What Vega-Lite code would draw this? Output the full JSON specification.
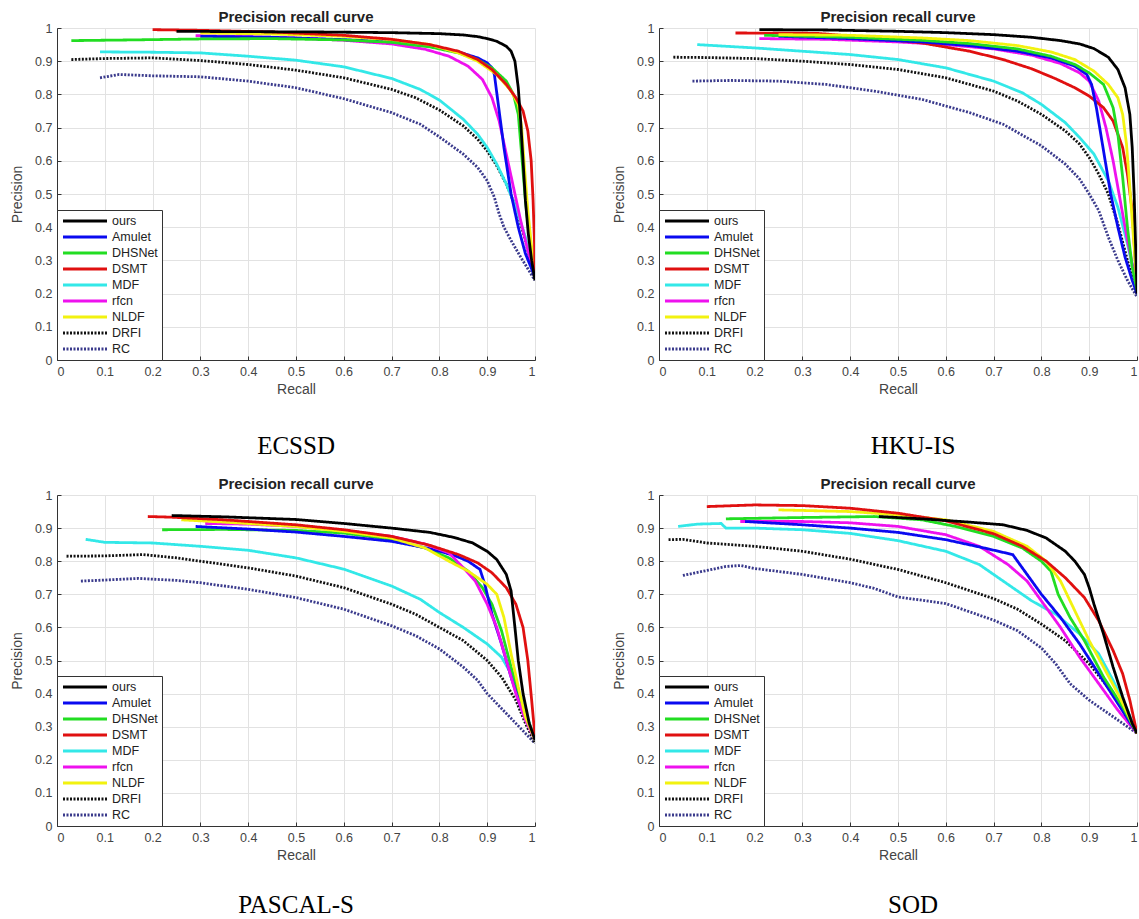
{
"$schema": "https://vega.github.io/schema/vega-lite/v6.json",
"padding": {"left": 10, "top": 10, "right": 0, "bottom": 0},
"background": "white",
"config": {
  "view": {"stroke": null},
  "font": "Liberation Sans",
  "axis": {"grid": true, "gridColor": "#e2e2e2", "gridWidth": 1, "domainColor": "#333333", "tickColor": "#333333", "tickSize": -4, "labelPadding": 9, "labelFontSize": 12.5, "labelColor": "#444444", "titleFontSize": 14, "titleFontWeight": "normal", "titleColor": "#444444", "labelFont": "Liberation Sans", "titleFont": "Liberation Sans"},
  "legend": {"orient": "bottom-left", "offset": 0, "padding": 4, "strokeColor": "#333333", "fillColor": "white", "symbolType": "M-4,0H4", "symbolSize": 121, "symbolStrokeWidth": 3, "symbolOffset": 17, "labelFontSize": 12.5, "labelColor": "#222222", "rowPadding": 2, "labelOffset": 20, "labelFont": "Liberation Sans"}
},
"resolve": {"legend": {"color": "independent", "strokeDash": "independent"}},
"datasets": {"pr": [
{"d":"ECSSD","m":"RC","r":0.09,"p":0.85},{"d":"ECSSD","m":"RC","r":0.13,"p":0.86},{"d":"ECSSD","m":"RC","r":0.2,"p":0.856},{"d":"ECSSD","m":"RC","r":0.3,"p":0.853},{"d":"ECSSD","m":"RC","r":0.4,"p":0.84},{"d":"ECSSD","m":"RC","r":0.5,"p":0.82},{"d":"ECSSD","m":"RC","r":0.6,"p":0.787},{"d":"ECSSD","m":"RC","r":0.7,"p":0.745},{"d":"ECSSD","m":"RC","r":0.76,"p":0.71},{"d":"ECSSD","m":"RC","r":0.8,"p":0.672},{"d":"ECSSD","m":"RC","r":0.85,"p":0.62},{"d":"ECSSD","m":"RC","r":0.88,"p":0.58},{"d":"ECSSD","m":"RC","r":0.9,"p":0.54},{"d":"ECSSD","m":"RC","r":0.915,"p":0.49},{"d":"ECSSD","m":"RC","r":0.925,"p":0.44},{"d":"ECSSD","m":"RC","r":0.935,"p":0.4},{"d":"ECSSD","m":"RC","r":0.95,"p":0.36},{"d":"ECSSD","m":"RC","r":0.97,"p":0.31},{"d":"ECSSD","m":"RC","r":1.0,"p":0.24},
{"d":"ECSSD","m":"DRFI","r":0.03,"p":0.905},{"d":"ECSSD","m":"DRFI","r":0.1,"p":0.908},{"d":"ECSSD","m":"DRFI","r":0.2,"p":0.91},{"d":"ECSSD","m":"DRFI","r":0.3,"p":0.902},{"d":"ECSSD","m":"DRFI","r":0.4,"p":0.89},{"d":"ECSSD","m":"DRFI","r":0.5,"p":0.873},{"d":"ECSSD","m":"DRFI","r":0.6,"p":0.85},{"d":"ECSSD","m":"DRFI","r":0.7,"p":0.815},{"d":"ECSSD","m":"DRFI","r":0.75,"p":0.79},{"d":"ECSSD","m":"DRFI","r":0.8,"p":0.753},{"d":"ECSSD","m":"DRFI","r":0.85,"p":0.705},{"d":"ECSSD","m":"DRFI","r":0.88,"p":0.665},{"d":"ECSSD","m":"DRFI","r":0.9,"p":0.63},{"d":"ECSSD","m":"DRFI","r":0.92,"p":0.585},{"d":"ECSSD","m":"DRFI","r":0.94,"p":0.53},{"d":"ECSSD","m":"DRFI","r":0.96,"p":0.46},{"d":"ECSSD","m":"DRFI","r":0.98,"p":0.36},{"d":"ECSSD","m":"DRFI","r":1.0,"p":0.24},
{"d":"ECSSD","m":"MDF","r":0.09,"p":0.928},{"d":"ECSSD","m":"MDF","r":0.2,"p":0.927},{"d":"ECSSD","m":"MDF","r":0.3,"p":0.925},{"d":"ECSSD","m":"MDF","r":0.4,"p":0.915},{"d":"ECSSD","m":"MDF","r":0.5,"p":0.903},{"d":"ECSSD","m":"MDF","r":0.6,"p":0.883},{"d":"ECSSD","m":"MDF","r":0.7,"p":0.848},{"d":"ECSSD","m":"MDF","r":0.76,"p":0.815},{"d":"ECSSD","m":"MDF","r":0.8,"p":0.783},{"d":"ECSSD","m":"MDF","r":0.85,"p":0.725},{"d":"ECSSD","m":"MDF","r":0.88,"p":0.68},{"d":"ECSSD","m":"MDF","r":0.9,"p":0.64},{"d":"ECSSD","m":"MDF","r":0.92,"p":0.59},{"d":"ECSSD","m":"MDF","r":0.94,"p":0.53},{"d":"ECSSD","m":"MDF","r":0.96,"p":0.46},{"d":"ECSSD","m":"MDF","r":0.98,"p":0.37},{"d":"ECSSD","m":"MDF","r":1.0,"p":0.25},
{"d":"ECSSD","m":"rfcn","r":0.29,"p":0.977},{"d":"ECSSD","m":"rfcn","r":0.4,"p":0.974},{"d":"ECSSD","m":"rfcn","r":0.5,"p":0.97},{"d":"ECSSD","m":"rfcn","r":0.6,"p":0.963},{"d":"ECSSD","m":"rfcn","r":0.7,"p":0.952},{"d":"ECSSD","m":"rfcn","r":0.77,"p":0.936},{"d":"ECSSD","m":"rfcn","r":0.82,"p":0.915},{"d":"ECSSD","m":"rfcn","r":0.86,"p":0.885},{"d":"ECSSD","m":"rfcn","r":0.89,"p":0.845},{"d":"ECSSD","m":"rfcn","r":0.91,"p":0.79},{"d":"ECSSD","m":"rfcn","r":0.925,"p":0.72},{"d":"ECSSD","m":"rfcn","r":0.94,"p":0.62},{"d":"ECSSD","m":"rfcn","r":0.955,"p":0.52},{"d":"ECSSD","m":"rfcn","r":0.97,"p":0.42},{"d":"ECSSD","m":"rfcn","r":0.985,"p":0.33},{"d":"ECSSD","m":"rfcn","r":1.0,"p":0.25},
{"d":"ECSSD","m":"Amulet","r":0.3,"p":0.975},{"d":"ECSSD","m":"Amulet","r":0.45,"p":0.972},{"d":"ECSSD","m":"Amulet","r":0.6,"p":0.965},{"d":"ECSSD","m":"Amulet","r":0.7,"p":0.958},{"d":"ECSSD","m":"Amulet","r":0.78,"p":0.945},{"d":"ECSSD","m":"Amulet","r":0.84,"p":0.928},{"d":"ECSSD","m":"Amulet","r":0.88,"p":0.91},{"d":"ECSSD","m":"Amulet","r":0.9,"p":0.895},{"d":"ECSSD","m":"Amulet","r":0.91,"p":0.88},{"d":"ECSSD","m":"Amulet","r":0.915,"p":0.86},{"d":"ECSSD","m":"Amulet","r":0.925,"p":0.75},{"d":"ECSSD","m":"Amulet","r":0.935,"p":0.64},{"d":"ECSSD","m":"Amulet","r":0.95,"p":0.5},{"d":"ECSSD","m":"Amulet","r":0.965,"p":0.4},{"d":"ECSSD","m":"Amulet","r":0.98,"p":0.32},{"d":"ECSSD","m":"Amulet","r":1.0,"p":0.25},
{"d":"ECSSD","m":"DHSNet","r":0.03,"p":0.962},{"d":"ECSSD","m":"DHSNet","r":0.15,"p":0.964},{"d":"ECSSD","m":"DHSNet","r":0.3,"p":0.967},{"d":"ECSSD","m":"DHSNet","r":0.45,"p":0.968},{"d":"ECSSD","m":"DHSNet","r":0.6,"p":0.964},{"d":"ECSSD","m":"DHSNet","r":0.7,"p":0.957},{"d":"ECSSD","m":"DHSNet","r":0.78,"p":0.943},{"d":"ECSSD","m":"DHSNet","r":0.84,"p":0.925},{"d":"ECSSD","m":"DHSNet","r":0.88,"p":0.905},{"d":"ECSSD","m":"DHSNet","r":0.91,"p":0.88},{"d":"ECSSD","m":"DHSNet","r":0.94,"p":0.84},{"d":"ECSSD","m":"DHSNet","r":0.955,"p":0.8},{"d":"ECSSD","m":"DHSNet","r":0.965,"p":0.74},{"d":"ECSSD","m":"DHSNet","r":0.972,"p":0.62},{"d":"ECSSD","m":"DHSNet","r":0.98,"p":0.48},{"d":"ECSSD","m":"DHSNet","r":0.99,"p":0.35},{"d":"ECSSD","m":"DHSNet","r":1.0,"p":0.25},
{"d":"ECSSD","m":"NLDF","r":0.3,"p":0.985},{"d":"ECSSD","m":"NLDF","r":0.45,"p":0.982},{"d":"ECSSD","m":"NLDF","r":0.6,"p":0.975},{"d":"ECSSD","m":"NLDF","r":0.7,"p":0.965},{"d":"ECSSD","m":"NLDF","r":0.78,"p":0.95},{"d":"ECSSD","m":"NLDF","r":0.84,"p":0.925},{"d":"ECSSD","m":"NLDF","r":0.88,"p":0.9},{"d":"ECSSD","m":"NLDF","r":0.92,"p":0.86},{"d":"ECSSD","m":"NLDF","r":0.95,"p":0.81},{"d":"ECSSD","m":"NLDF","r":0.965,"p":0.77},{"d":"ECSSD","m":"NLDF","r":0.972,"p":0.7},{"d":"ECSSD","m":"NLDF","r":0.978,"p":0.58},{"d":"ECSSD","m":"NLDF","r":0.985,"p":0.45},{"d":"ECSSD","m":"NLDF","r":0.993,"p":0.34},{"d":"ECSSD","m":"NLDF","r":1.0,"p":0.25},
{"d":"ECSSD","m":"DSMT","r":0.2,"p":0.995},{"d":"ECSSD","m":"DSMT","r":0.3,"p":0.993},{"d":"ECSSD","m":"DSMT","r":0.45,"p":0.988},{"d":"ECSSD","m":"DSMT","r":0.6,"p":0.978},{"d":"ECSSD","m":"DSMT","r":0.7,"p":0.966},{"d":"ECSSD","m":"DSMT","r":0.78,"p":0.95},{"d":"ECSSD","m":"DSMT","r":0.84,"p":0.93},{"d":"ECSSD","m":"DSMT","r":0.88,"p":0.905},{"d":"ECSSD","m":"DSMT","r":0.91,"p":0.875},{"d":"ECSSD","m":"DSMT","r":0.94,"p":0.83},{"d":"ECSSD","m":"DSMT","r":0.96,"p":0.79},{"d":"ECSSD","m":"DSMT","r":0.975,"p":0.75},{"d":"ECSSD","m":"DSMT","r":0.985,"p":0.69},{"d":"ECSSD","m":"DSMT","r":0.992,"p":0.6},{"d":"ECSSD","m":"DSMT","r":0.996,"p":0.48},{"d":"ECSSD","m":"DSMT","r":0.999,"p":0.35},{"d":"ECSSD","m":"DSMT","r":1.0,"p":0.25},
{"d":"ECSSD","m":"ours","r":0.25,"p":0.99},{"d":"ECSSD","m":"ours","r":0.4,"p":0.989},{"d":"ECSSD","m":"ours","r":0.55,"p":0.988},{"d":"ECSSD","m":"ours","r":0.7,"p":0.986},{"d":"ECSSD","m":"ours","r":0.8,"p":0.983},{"d":"ECSSD","m":"ours","r":0.85,"p":0.979},{"d":"ECSSD","m":"ours","r":0.88,"p":0.974},{"d":"ECSSD","m":"ours","r":0.9,"p":0.968},{"d":"ECSSD","m":"ours","r":0.92,"p":0.96},{"d":"ECSSD","m":"ours","r":0.94,"p":0.945},{"d":"ECSSD","m":"ours","r":0.95,"p":0.93},{"d":"ECSSD","m":"ours","r":0.958,"p":0.9},{"d":"ECSSD","m":"ours","r":0.965,"p":0.82},{"d":"ECSSD","m":"ours","r":0.97,"p":0.72},{"d":"ECSSD","m":"ours","r":0.975,"p":0.6},{"d":"ECSSD","m":"ours","r":0.98,"p":0.48},{"d":"ECSSD","m":"ours","r":0.986,"p":0.38},{"d":"ECSSD","m":"ours","r":0.993,"p":0.3},{"d":"ECSSD","m":"ours","r":1.0,"p":0.24},

{"d":"HKU-IS","m":"RC","r":0.07,"p":0.84},{"d":"HKU-IS","m":"RC","r":0.15,"p":0.842},{"d":"HKU-IS","m":"RC","r":0.25,"p":0.84},{"d":"HKU-IS","m":"RC","r":0.35,"p":0.83},{"d":"HKU-IS","m":"RC","r":0.45,"p":0.81},{"d":"HKU-IS","m":"RC","r":0.55,"p":0.785},{"d":"HKU-IS","m":"RC","r":0.65,"p":0.745},{"d":"HKU-IS","m":"RC","r":0.72,"p":0.71},{"d":"HKU-IS","m":"RC","r":0.8,"p":0.645},{"d":"HKU-IS","m":"RC","r":0.85,"p":0.59},{"d":"HKU-IS","m":"RC","r":0.88,"p":0.545},{"d":"HKU-IS","m":"RC","r":0.9,"p":0.5},{"d":"HKU-IS","m":"RC","r":0.92,"p":0.45},{"d":"HKU-IS","m":"RC","r":0.94,"p":0.37},{"d":"HKU-IS","m":"RC","r":0.96,"p":0.3},{"d":"HKU-IS","m":"RC","r":0.98,"p":0.24},{"d":"HKU-IS","m":"RC","r":1.0,"p":0.19},
{"d":"HKU-IS","m":"DRFI","r":0.03,"p":0.912},{"d":"HKU-IS","m":"DRFI","r":0.1,"p":0.911},{"d":"HKU-IS","m":"DRFI","r":0.2,"p":0.908},{"d":"HKU-IS","m":"DRFI","r":0.3,"p":0.9},{"d":"HKU-IS","m":"DRFI","r":0.4,"p":0.89},{"d":"HKU-IS","m":"DRFI","r":0.5,"p":0.875},{"d":"HKU-IS","m":"DRFI","r":0.6,"p":0.85},{"d":"HKU-IS","m":"DRFI","r":0.7,"p":0.81},{"d":"HKU-IS","m":"DRFI","r":0.75,"p":0.78},{"d":"HKU-IS","m":"DRFI","r":0.8,"p":0.74},{"d":"HKU-IS","m":"DRFI","r":0.85,"p":0.69},{"d":"HKU-IS","m":"DRFI","r":0.88,"p":0.65},{"d":"HKU-IS","m":"DRFI","r":0.9,"p":0.61},{"d":"HKU-IS","m":"DRFI","r":0.92,"p":0.56},{"d":"HKU-IS","m":"DRFI","r":0.94,"p":0.5},{"d":"HKU-IS","m":"DRFI","r":0.96,"p":0.41},{"d":"HKU-IS","m":"DRFI","r":0.98,"p":0.3},{"d":"HKU-IS","m":"DRFI","r":1.0,"p":0.2},
{"d":"HKU-IS","m":"MDF","r":0.08,"p":0.95},{"d":"HKU-IS","m":"MDF","r":0.2,"p":0.94},{"d":"HKU-IS","m":"MDF","r":0.3,"p":0.93},{"d":"HKU-IS","m":"MDF","r":0.4,"p":0.92},{"d":"HKU-IS","m":"MDF","r":0.5,"p":0.905},{"d":"HKU-IS","m":"MDF","r":0.6,"p":0.88},{"d":"HKU-IS","m":"MDF","r":0.7,"p":0.84},{"d":"HKU-IS","m":"MDF","r":0.76,"p":0.805},{"d":"HKU-IS","m":"MDF","r":0.8,"p":0.77},{"d":"HKU-IS","m":"MDF","r":0.85,"p":0.715},{"d":"HKU-IS","m":"MDF","r":0.88,"p":0.67},{"d":"HKU-IS","m":"MDF","r":0.91,"p":0.62},{"d":"HKU-IS","m":"MDF","r":0.94,"p":0.54},{"d":"HKU-IS","m":"MDF","r":0.96,"p":0.46},{"d":"HKU-IS","m":"MDF","r":0.98,"p":0.35},{"d":"HKU-IS","m":"MDF","r":1.0,"p":0.22},
{"d":"HKU-IS","m":"rfcn","r":0.21,"p":0.968},{"d":"HKU-IS","m":"rfcn","r":0.35,"p":0.966},{"d":"HKU-IS","m":"rfcn","r":0.5,"p":0.958},{"d":"HKU-IS","m":"rfcn","r":0.6,"p":0.95},{"d":"HKU-IS","m":"rfcn","r":0.7,"p":0.937},{"d":"HKU-IS","m":"rfcn","r":0.78,"p":0.918},{"d":"HKU-IS","m":"rfcn","r":0.84,"p":0.893},{"d":"HKU-IS","m":"rfcn","r":0.88,"p":0.865},{"d":"HKU-IS","m":"rfcn","r":0.9,"p":0.84},{"d":"HKU-IS","m":"rfcn","r":0.92,"p":0.78},{"d":"HKU-IS","m":"rfcn","r":0.935,"p":0.7},{"d":"HKU-IS","m":"rfcn","r":0.95,"p":0.6},{"d":"HKU-IS","m":"rfcn","r":0.965,"p":0.48},{"d":"HKU-IS","m":"rfcn","r":0.98,"p":0.36},{"d":"HKU-IS","m":"rfcn","r":1.0,"p":0.22},
{"d":"HKU-IS","m":"DSMT","r":0.16,"p":0.985},{"d":"HKU-IS","m":"DSMT","r":0.33,"p":0.984},{"d":"HKU-IS","m":"DSMT","r":0.45,"p":0.97},{"d":"HKU-IS","m":"DSMT","r":0.55,"p":0.955},{"d":"HKU-IS","m":"DSMT","r":0.65,"p":0.93},{"d":"HKU-IS","m":"DSMT","r":0.72,"p":0.905},{"d":"HKU-IS","m":"DSMT","r":0.78,"p":0.877},{"d":"HKU-IS","m":"DSMT","r":0.83,"p":0.847},{"d":"HKU-IS","m":"DSMT","r":0.87,"p":0.82},{"d":"HKU-IS","m":"DSMT","r":0.9,"p":0.795},{"d":"HKU-IS","m":"DSMT","r":0.93,"p":0.76},{"d":"HKU-IS","m":"DSMT","r":0.95,"p":0.72},{"d":"HKU-IS","m":"DSMT","r":0.97,"p":0.64},{"d":"HKU-IS","m":"DSMT","r":0.98,"p":0.56},{"d":"HKU-IS","m":"DSMT","r":0.99,"p":0.45},{"d":"HKU-IS","m":"DSMT","r":0.995,"p":0.33},{"d":"HKU-IS","m":"DSMT","r":1.0,"p":0.22},
{"d":"HKU-IS","m":"Amulet","r":0.25,"p":0.975},{"d":"HKU-IS","m":"Amulet","r":0.4,"p":0.968},{"d":"HKU-IS","m":"Amulet","r":0.55,"p":0.958},{"d":"HKU-IS","m":"Amulet","r":0.65,"p":0.947},{"d":"HKU-IS","m":"Amulet","r":0.75,"p":0.93},{"d":"HKU-IS","m":"Amulet","r":0.82,"p":0.91},{"d":"HKU-IS","m":"Amulet","r":0.87,"p":0.885},{"d":"HKU-IS","m":"Amulet","r":0.895,"p":0.86},{"d":"HKU-IS","m":"Amulet","r":0.905,"p":0.83},{"d":"HKU-IS","m":"Amulet","r":0.915,"p":0.76},{"d":"HKU-IS","m":"Amulet","r":0.93,"p":0.63},{"d":"HKU-IS","m":"Amulet","r":0.945,"p":0.5},{"d":"HKU-IS","m":"Amulet","r":0.96,"p":0.4},{"d":"HKU-IS","m":"Amulet","r":0.975,"p":0.31},{"d":"HKU-IS","m":"Amulet","r":0.99,"p":0.24},{"d":"HKU-IS","m":"Amulet","r":1.0,"p":0.2},
{"d":"HKU-IS","m":"DHSNet","r":0.22,"p":0.978},{"d":"HKU-IS","m":"DHSNet","r":0.4,"p":0.972},{"d":"HKU-IS","m":"DHSNet","r":0.55,"p":0.963},{"d":"HKU-IS","m":"DHSNet","r":0.65,"p":0.953},{"d":"HKU-IS","m":"DHSNet","r":0.75,"p":0.937},{"d":"HKU-IS","m":"DHSNet","r":0.82,"p":0.915},{"d":"HKU-IS","m":"DHSNet","r":0.87,"p":0.89},{"d":"HKU-IS","m":"DHSNet","r":0.9,"p":0.865},{"d":"HKU-IS","m":"DHSNet","r":0.93,"p":0.83},{"d":"HKU-IS","m":"DHSNet","r":0.95,"p":0.76},{"d":"HKU-IS","m":"DHSNet","r":0.96,"p":0.68},{"d":"HKU-IS","m":"DHSNet","r":0.97,"p":0.55},{"d":"HKU-IS","m":"DHSNet","r":0.98,"p":0.4},{"d":"HKU-IS","m":"DHSNet","r":0.99,"p":0.28},{"d":"HKU-IS","m":"DHSNet","r":1.0,"p":0.21},
{"d":"HKU-IS","m":"NLDF","r":0.25,"p":0.98},{"d":"HKU-IS","m":"NLDF","r":0.4,"p":0.978},{"d":"HKU-IS","m":"NLDF","r":0.55,"p":0.97},{"d":"HKU-IS","m":"NLDF","r":0.65,"p":0.962},{"d":"HKU-IS","m":"NLDF","r":0.75,"p":0.947},{"d":"HKU-IS","m":"NLDF","r":0.82,"p":0.928},{"d":"HKU-IS","m":"NLDF","r":0.87,"p":0.905},{"d":"HKU-IS","m":"NLDF","r":0.91,"p":0.87},{"d":"HKU-IS","m":"NLDF","r":0.94,"p":0.83},{"d":"HKU-IS","m":"NLDF","r":0.96,"p":0.79},{"d":"HKU-IS","m":"NLDF","r":0.97,"p":0.74},{"d":"HKU-IS","m":"NLDF","r":0.978,"p":0.65},{"d":"HKU-IS","m":"NLDF","r":0.985,"p":0.52},{"d":"HKU-IS","m":"NLDF","r":0.992,"p":0.38},{"d":"HKU-IS","m":"NLDF","r":1.0,"p":0.23},
{"d":"HKU-IS","m":"ours","r":0.21,"p":0.995},{"d":"HKU-IS","m":"ours","r":0.35,"p":0.994},{"d":"HKU-IS","m":"ours","r":0.5,"p":0.99},{"d":"HKU-IS","m":"ours","r":0.6,"p":0.986},{"d":"HKU-IS","m":"ours","r":0.7,"p":0.98},{"d":"HKU-IS","m":"ours","r":0.78,"p":0.972},{"d":"HKU-IS","m":"ours","r":0.84,"p":0.962},{"d":"HKU-IS","m":"ours","r":0.88,"p":0.952},{"d":"HKU-IS","m":"ours","r":0.91,"p":0.938},{"d":"HKU-IS","m":"ours","r":0.94,"p":0.912},{"d":"HKU-IS","m":"ours","r":0.96,"p":0.875},{"d":"HKU-IS","m":"ours","r":0.975,"p":0.82},{"d":"HKU-IS","m":"ours","r":0.985,"p":0.74},{"d":"HKU-IS","m":"ours","r":0.99,"p":0.64},{"d":"HKU-IS","m":"ours","r":0.994,"p":0.5},{"d":"HKU-IS","m":"ours","r":0.997,"p":0.35},{"d":"HKU-IS","m":"ours","r":1.0,"p":0.2},

{"d":"PASCAL-S","m":"RC","r":0.05,"p":0.74},{"d":"PASCAL-S","m":"RC","r":0.1,"p":0.743},{"d":"PASCAL-S","m":"RC","r":0.17,"p":0.748},{"d":"PASCAL-S","m":"RC","r":0.25,"p":0.742},{"d":"PASCAL-S","m":"RC","r":0.3,"p":0.735},{"d":"PASCAL-S","m":"RC","r":0.4,"p":0.715},{"d":"PASCAL-S","m":"RC","r":0.5,"p":0.69},{"d":"PASCAL-S","m":"RC","r":0.6,"p":0.655},{"d":"PASCAL-S","m":"RC","r":0.7,"p":0.605},{"d":"PASCAL-S","m":"RC","r":0.75,"p":0.575},{"d":"PASCAL-S","m":"RC","r":0.8,"p":0.535},{"d":"PASCAL-S","m":"RC","r":0.85,"p":0.48},{"d":"PASCAL-S","m":"RC","r":0.88,"p":0.44},{"d":"PASCAL-S","m":"RC","r":0.9,"p":0.4},{"d":"PASCAL-S","m":"RC","r":0.93,"p":0.355},{"d":"PASCAL-S","m":"RC","r":0.96,"p":0.31},{"d":"PASCAL-S","m":"RC","r":1.0,"p":0.25},
{"d":"PASCAL-S","m":"DRFI","r":0.02,"p":0.815},{"d":"PASCAL-S","m":"DRFI","r":0.1,"p":0.816},{"d":"PASCAL-S","m":"DRFI","r":0.18,"p":0.82},{"d":"PASCAL-S","m":"DRFI","r":0.25,"p":0.81},{"d":"PASCAL-S","m":"DRFI","r":0.3,"p":0.8},{"d":"PASCAL-S","m":"DRFI","r":0.4,"p":0.78},{"d":"PASCAL-S","m":"DRFI","r":0.5,"p":0.755},{"d":"PASCAL-S","m":"DRFI","r":0.6,"p":0.72},{"d":"PASCAL-S","m":"DRFI","r":0.7,"p":0.67},{"d":"PASCAL-S","m":"DRFI","r":0.75,"p":0.64},{"d":"PASCAL-S","m":"DRFI","r":0.8,"p":0.6},{"d":"PASCAL-S","m":"DRFI","r":0.85,"p":0.56},{"d":"PASCAL-S","m":"DRFI","r":0.9,"p":0.5},{"d":"PASCAL-S","m":"DRFI","r":0.93,"p":0.45},{"d":"PASCAL-S","m":"DRFI","r":0.96,"p":0.38},{"d":"PASCAL-S","m":"DRFI","r":0.98,"p":0.31},{"d":"PASCAL-S","m":"DRFI","r":1.0,"p":0.25},
{"d":"PASCAL-S","m":"MDF","r":0.06,"p":0.866},{"d":"PASCAL-S","m":"MDF","r":0.1,"p":0.857},{"d":"PASCAL-S","m":"MDF","r":0.2,"p":0.855},{"d":"PASCAL-S","m":"MDF","r":0.3,"p":0.845},{"d":"PASCAL-S","m":"MDF","r":0.4,"p":0.833},{"d":"PASCAL-S","m":"MDF","r":0.5,"p":0.81},{"d":"PASCAL-S","m":"MDF","r":0.6,"p":0.776},{"d":"PASCAL-S","m":"MDF","r":0.7,"p":0.725},{"d":"PASCAL-S","m":"MDF","r":0.76,"p":0.685},{"d":"PASCAL-S","m":"MDF","r":0.8,"p":0.645},{"d":"PASCAL-S","m":"MDF","r":0.85,"p":0.6},{"d":"PASCAL-S","m":"MDF","r":0.9,"p":0.55},{"d":"PASCAL-S","m":"MDF","r":0.93,"p":0.51},{"d":"PASCAL-S","m":"MDF","r":0.95,"p":0.46},{"d":"PASCAL-S","m":"MDF","r":0.97,"p":0.39},{"d":"PASCAL-S","m":"MDF","r":1.0,"p":0.26},
{"d":"PASCAL-S","m":"DHSNet","r":0.22,"p":0.895},{"d":"PASCAL-S","m":"DHSNet","r":0.35,"p":0.896},{"d":"PASCAL-S","m":"DHSNet","r":0.5,"p":0.893},{"d":"PASCAL-S","m":"DHSNet","r":0.6,"p":0.885},{"d":"PASCAL-S","m":"DHSNet","r":0.7,"p":0.866},{"d":"PASCAL-S","m":"DHSNet","r":0.77,"p":0.84},{"d":"PASCAL-S","m":"DHSNet","r":0.82,"p":0.81},{"d":"PASCAL-S","m":"DHSNet","r":0.86,"p":0.77},{"d":"PASCAL-S","m":"DHSNet","r":0.89,"p":0.72},{"d":"PASCAL-S","m":"DHSNet","r":0.91,"p":0.67},{"d":"PASCAL-S","m":"DHSNet","r":0.93,"p":0.59},{"d":"PASCAL-S","m":"DHSNet","r":0.95,"p":0.48},{"d":"PASCAL-S","m":"DHSNet","r":0.97,"p":0.38},{"d":"PASCAL-S","m":"DHSNet","r":1.0,"p":0.26},
{"d":"PASCAL-S","m":"Amulet","r":0.29,"p":0.905},{"d":"PASCAL-S","m":"Amulet","r":0.4,"p":0.897},{"d":"PASCAL-S","m":"Amulet","r":0.5,"p":0.888},{"d":"PASCAL-S","m":"Amulet","r":0.6,"p":0.875},{"d":"PASCAL-S","m":"Amulet","r":0.7,"p":0.86},{"d":"PASCAL-S","m":"Amulet","r":0.78,"p":0.838},{"d":"PASCAL-S","m":"Amulet","r":0.83,"p":0.818},{"d":"PASCAL-S","m":"Amulet","r":0.86,"p":0.8},{"d":"PASCAL-S","m":"Amulet","r":0.885,"p":0.775},{"d":"PASCAL-S","m":"Amulet","r":0.895,"p":0.73},{"d":"PASCAL-S","m":"Amulet","r":0.91,"p":0.64},{"d":"PASCAL-S","m":"Amulet","r":0.93,"p":0.55},{"d":"PASCAL-S","m":"Amulet","r":0.95,"p":0.45},{"d":"PASCAL-S","m":"Amulet","r":0.97,"p":0.36},{"d":"PASCAL-S","m":"Amulet","r":1.0,"p":0.26},
{"d":"PASCAL-S","m":"rfcn","r":0.31,"p":0.914},{"d":"PASCAL-S","m":"rfcn","r":0.4,"p":0.912},{"d":"PASCAL-S","m":"rfcn","r":0.5,"p":0.905},{"d":"PASCAL-S","m":"rfcn","r":0.6,"p":0.893},{"d":"PASCAL-S","m":"rfcn","r":0.7,"p":0.875},{"d":"PASCAL-S","m":"rfcn","r":0.77,"p":0.852},{"d":"PASCAL-S","m":"rfcn","r":0.82,"p":0.825},{"d":"PASCAL-S","m":"rfcn","r":0.85,"p":0.78},{"d":"PASCAL-S","m":"rfcn","r":0.875,"p":0.74},{"d":"PASCAL-S","m":"rfcn","r":0.9,"p":0.67},{"d":"PASCAL-S","m":"rfcn","r":0.92,"p":0.6},{"d":"PASCAL-S","m":"rfcn","r":0.94,"p":0.5},{"d":"PASCAL-S","m":"rfcn","r":0.96,"p":0.4},{"d":"PASCAL-S","m":"rfcn","r":0.98,"p":0.32},{"d":"PASCAL-S","m":"rfcn","r":1.0,"p":0.26},
{"d":"PASCAL-S","m":"NLDF","r":0.26,"p":0.925},{"d":"PASCAL-S","m":"NLDF","r":0.35,"p":0.918},{"d":"PASCAL-S","m":"NLDF","r":0.5,"p":0.905},{"d":"PASCAL-S","m":"NLDF","r":0.6,"p":0.89},{"d":"PASCAL-S","m":"NLDF","r":0.7,"p":0.87},{"d":"PASCAL-S","m":"NLDF","r":0.77,"p":0.84},{"d":"PASCAL-S","m":"NLDF","r":0.82,"p":0.8},{"d":"PASCAL-S","m":"NLDF","r":0.86,"p":0.77},{"d":"PASCAL-S","m":"NLDF","r":0.9,"p":0.73},{"d":"PASCAL-S","m":"NLDF","r":0.92,"p":0.7},{"d":"PASCAL-S","m":"NLDF","r":0.935,"p":0.63},{"d":"PASCAL-S","m":"NLDF","r":0.95,"p":0.52},{"d":"PASCAL-S","m":"NLDF","r":0.965,"p":0.42},{"d":"PASCAL-S","m":"NLDF","r":0.98,"p":0.33},{"d":"PASCAL-S","m":"NLDF","r":1.0,"p":0.26},
{"d":"PASCAL-S","m":"DSMT","r":0.19,"p":0.935},{"d":"PASCAL-S","m":"DSMT","r":0.24,"p":0.933},{"d":"PASCAL-S","m":"DSMT","r":0.35,"p":0.925},{"d":"PASCAL-S","m":"DSMT","r":0.5,"p":0.91},{"d":"PASCAL-S","m":"DSMT","r":0.6,"p":0.895},{"d":"PASCAL-S","m":"DSMT","r":0.7,"p":0.875},{"d":"PASCAL-S","m":"DSMT","r":0.78,"p":0.848},{"d":"PASCAL-S","m":"DSMT","r":0.84,"p":0.82},{"d":"PASCAL-S","m":"DSMT","r":0.88,"p":0.795},{"d":"PASCAL-S","m":"DSMT","r":0.91,"p":0.765},{"d":"PASCAL-S","m":"DSMT","r":0.94,"p":0.72},{"d":"PASCAL-S","m":"DSMT","r":0.96,"p":0.67},{"d":"PASCAL-S","m":"DSMT","r":0.975,"p":0.6},{"d":"PASCAL-S","m":"DSMT","r":0.985,"p":0.5},{"d":"PASCAL-S","m":"DSMT","r":0.993,"p":0.38},{"d":"PASCAL-S","m":"DSMT","r":1.0,"p":0.27},
{"d":"PASCAL-S","m":"ours","r":0.24,"p":0.938},{"d":"PASCAL-S","m":"ours","r":0.35,"p":0.934},{"d":"PASCAL-S","m":"ours","r":0.5,"p":0.926},{"d":"PASCAL-S","m":"ours","r":0.6,"p":0.914},{"d":"PASCAL-S","m":"ours","r":0.7,"p":0.9},{"d":"PASCAL-S","m":"ours","r":0.78,"p":0.887},{"d":"PASCAL-S","m":"ours","r":0.83,"p":0.872},{"d":"PASCAL-S","m":"ours","r":0.87,"p":0.855},{"d":"PASCAL-S","m":"ours","r":0.9,"p":0.83},{"d":"PASCAL-S","m":"ours","r":0.92,"p":0.805},{"d":"PASCAL-S","m":"ours","r":0.94,"p":0.76},{"d":"PASCAL-S","m":"ours","r":0.95,"p":0.71},{"d":"PASCAL-S","m":"ours","r":0.958,"p":0.6},{"d":"PASCAL-S","m":"ours","r":0.965,"p":0.5},{"d":"PASCAL-S","m":"ours","r":0.975,"p":0.4},{"d":"PASCAL-S","m":"ours","r":0.988,"p":0.31},{"d":"PASCAL-S","m":"ours","r":1.0,"p":0.26},

{"d":"SOD","m":"RC","r":0.05,"p":0.757},{"d":"SOD","m":"RC","r":0.1,"p":0.772},{"d":"SOD","m":"RC","r":0.14,"p":0.784},{"d":"SOD","m":"RC","r":0.17,"p":0.787},{"d":"SOD","m":"RC","r":0.2,"p":0.778},{"d":"SOD","m":"RC","r":0.3,"p":0.76},{"d":"SOD","m":"RC","r":0.4,"p":0.735},{"d":"SOD","m":"RC","r":0.45,"p":0.718},{"d":"SOD","m":"RC","r":0.5,"p":0.692},{"d":"SOD","m":"RC","r":0.6,"p":0.672},{"d":"SOD","m":"RC","r":0.7,"p":0.622},{"d":"SOD","m":"RC","r":0.75,"p":0.59},{"d":"SOD","m":"RC","r":0.8,"p":0.538},{"d":"SOD","m":"RC","r":0.83,"p":0.49},{"d":"SOD","m":"RC","r":0.86,"p":0.43},{"d":"SOD","m":"RC","r":0.9,"p":0.38},{"d":"SOD","m":"RC","r":0.95,"p":0.33},{"d":"SOD","m":"RC","r":1.0,"p":0.28},
{"d":"SOD","m":"DRFI","r":0.02,"p":0.865},{"d":"SOD","m":"DRFI","r":0.05,"p":0.866},{"d":"SOD","m":"DRFI","r":0.1,"p":0.855},{"d":"SOD","m":"DRFI","r":0.2,"p":0.845},{"d":"SOD","m":"DRFI","r":0.3,"p":0.83},{"d":"SOD","m":"DRFI","r":0.4,"p":0.806},{"d":"SOD","m":"DRFI","r":0.5,"p":0.775},{"d":"SOD","m":"DRFI","r":0.6,"p":0.735},{"d":"SOD","m":"DRFI","r":0.7,"p":0.687},{"d":"SOD","m":"DRFI","r":0.75,"p":0.655},{"d":"SOD","m":"DRFI","r":0.8,"p":0.61},{"d":"SOD","m":"DRFI","r":0.85,"p":0.56},{"d":"SOD","m":"DRFI","r":0.9,"p":0.49},{"d":"SOD","m":"DRFI","r":0.95,"p":0.4},{"d":"SOD","m":"DRFI","r":1.0,"p":0.28},
{"d":"SOD","m":"MDF","r":0.04,"p":0.905},{"d":"SOD","m":"MDF","r":0.08,"p":0.912},{"d":"SOD","m":"MDF","r":0.13,"p":0.914},{"d":"SOD","m":"MDF","r":0.14,"p":0.9},{"d":"SOD","m":"MDF","r":0.2,"p":0.9},{"d":"SOD","m":"MDF","r":0.3,"p":0.895},{"d":"SOD","m":"MDF","r":0.4,"p":0.884},{"d":"SOD","m":"MDF","r":0.5,"p":0.862},{"d":"SOD","m":"MDF","r":0.6,"p":0.83},{"d":"SOD","m":"MDF","r":0.67,"p":0.79},{"d":"SOD","m":"MDF","r":0.73,"p":0.73},{"d":"SOD","m":"MDF","r":0.78,"p":0.68},{"d":"SOD","m":"MDF","r":0.83,"p":0.64},{"d":"SOD","m":"MDF","r":0.88,"p":0.58},{"d":"SOD","m":"MDF","r":0.92,"p":0.52},{"d":"SOD","m":"MDF","r":0.95,"p":0.44},{"d":"SOD","m":"MDF","r":0.98,"p":0.35},{"d":"SOD","m":"MDF","r":1.0,"p":0.28},
{"d":"SOD","m":"rfcn","r":0.17,"p":0.92},{"d":"SOD","m":"rfcn","r":0.3,"p":0.92},{"d":"SOD","m":"rfcn","r":0.4,"p":0.916},{"d":"SOD","m":"rfcn","r":0.5,"p":0.905},{"d":"SOD","m":"rfcn","r":0.6,"p":0.88},{"d":"SOD","m":"rfcn","r":0.67,"p":0.845},{"d":"SOD","m":"rfcn","r":0.73,"p":0.79},{"d":"SOD","m":"rfcn","r":0.77,"p":0.74},{"d":"SOD","m":"rfcn","r":0.8,"p":0.68},{"d":"SOD","m":"rfcn","r":0.84,"p":0.6},{"d":"SOD","m":"rfcn","r":0.88,"p":0.51},{"d":"SOD","m":"rfcn","r":0.92,"p":0.43},{"d":"SOD","m":"rfcn","r":0.96,"p":0.35},{"d":"SOD","m":"rfcn","r":1.0,"p":0.28},
{"d":"SOD","m":"Amulet","r":0.18,"p":0.92},{"d":"SOD","m":"Amulet","r":0.3,"p":0.91},{"d":"SOD","m":"Amulet","r":0.4,"p":0.9},{"d":"SOD","m":"Amulet","r":0.5,"p":0.887},{"d":"SOD","m":"Amulet","r":0.6,"p":0.865},{"d":"SOD","m":"Amulet","r":0.68,"p":0.84},{"d":"SOD","m":"Amulet","r":0.74,"p":0.82},{"d":"SOD","m":"Amulet","r":0.77,"p":0.76},{"d":"SOD","m":"Amulet","r":0.8,"p":0.7},{"d":"SOD","m":"Amulet","r":0.84,"p":0.63},{"d":"SOD","m":"Amulet","r":0.88,"p":0.55},{"d":"SOD","m":"Amulet","r":0.92,"p":0.46},{"d":"SOD","m":"Amulet","r":0.96,"p":0.37},{"d":"SOD","m":"Amulet","r":1.0,"p":0.28},
{"d":"SOD","m":"DHSNet","r":0.14,"p":0.928},{"d":"SOD","m":"DHSNet","r":0.3,"p":0.932},{"d":"SOD","m":"DHSNet","r":0.45,"p":0.935},{"d":"SOD","m":"DHSNet","r":0.55,"p":0.925},{"d":"SOD","m":"DHSNet","r":0.62,"p":0.905},{"d":"SOD","m":"DHSNet","r":0.7,"p":0.875},{"d":"SOD","m":"DHSNet","r":0.76,"p":0.84},{"d":"SOD","m":"DHSNet","r":0.8,"p":0.8},{"d":"SOD","m":"DHSNet","r":0.82,"p":0.77},{"d":"SOD","m":"DHSNet","r":0.835,"p":0.7},{"d":"SOD","m":"DHSNet","r":0.86,"p":0.63},{"d":"SOD","m":"DHSNet","r":0.89,"p":0.56},{"d":"SOD","m":"DHSNet","r":0.93,"p":0.45},{"d":"SOD","m":"DHSNet","r":0.97,"p":0.36},{"d":"SOD","m":"DHSNet","r":1.0,"p":0.28},
{"d":"SOD","m":"NLDF","r":0.25,"p":0.955},{"d":"SOD","m":"NLDF","r":0.4,"p":0.95},{"d":"SOD","m":"NLDF","r":0.5,"p":0.94},{"d":"SOD","m":"NLDF","r":0.6,"p":0.925},{"d":"SOD","m":"NLDF","r":0.7,"p":0.89},{"d":"SOD","m":"NLDF","r":0.77,"p":0.845},{"d":"SOD","m":"NLDF","r":0.81,"p":0.8},{"d":"SOD","m":"NLDF","r":0.84,"p":0.74},{"d":"SOD","m":"NLDF","r":0.87,"p":0.65},{"d":"SOD","m":"NLDF","r":0.9,"p":0.56},{"d":"SOD","m":"NLDF","r":0.93,"p":0.48},{"d":"SOD","m":"NLDF","r":0.96,"p":0.4},{"d":"SOD","m":"NLDF","r":1.0,"p":0.28},
{"d":"SOD","m":"DSMT","r":0.1,"p":0.965},{"d":"SOD","m":"DSMT","r":0.2,"p":0.97},{"d":"SOD","m":"DSMT","r":0.3,"p":0.968},{"d":"SOD","m":"DSMT","r":0.4,"p":0.96},{"d":"SOD","m":"DSMT","r":0.5,"p":0.945},{"d":"SOD","m":"DSMT","r":0.6,"p":0.922},{"d":"SOD","m":"DSMT","r":0.7,"p":0.883},{"d":"SOD","m":"DSMT","r":0.76,"p":0.845},{"d":"SOD","m":"DSMT","r":0.81,"p":0.8},{"d":"SOD","m":"DSMT","r":0.85,"p":0.75},{"d":"SOD","m":"DSMT","r":0.89,"p":0.69},{"d":"SOD","m":"DSMT","r":0.92,"p":0.62},{"d":"SOD","m":"DSMT","r":0.95,"p":0.53},{"d":"SOD","m":"DSMT","r":0.97,"p":0.46},{"d":"SOD","m":"DSMT","r":0.985,"p":0.38},{"d":"SOD","m":"DSMT","r":1.0,"p":0.28},
{"d":"SOD","m":"ours","r":0.46,"p":0.935},{"d":"SOD","m":"ours","r":0.55,"p":0.928},{"d":"SOD","m":"ours","r":0.65,"p":0.918},{"d":"SOD","m":"ours","r":0.72,"p":0.91},{"d":"SOD","m":"ours","r":0.77,"p":0.893},{"d":"SOD","m":"ours","r":0.81,"p":0.87},{"d":"SOD","m":"ours","r":0.85,"p":0.83},{"d":"SOD","m":"ours","r":0.87,"p":0.8},{"d":"SOD","m":"ours","r":0.89,"p":0.76},{"d":"SOD","m":"ours","r":0.9,"p":0.72},{"d":"SOD","m":"ours","r":0.91,"p":0.67},{"d":"SOD","m":"ours","r":0.93,"p":0.58},{"d":"SOD","m":"ours","r":0.95,"p":0.48},{"d":"SOD","m":"ours","r":0.97,"p":0.39},{"d":"SOD","m":"ours","r":0.99,"p":0.31},{"d":"SOD","m":"ours","r":1.0,"p":0.28}
]},
"spacing": 18,
"vconcat": [
 {"hconcat": [
  {"title": {"text": "ECSSD", "orient": "bottom", "anchor": "middle", "dx": 23, "font": "Liberation Serif", "fontSize": 25, "fontWeight": "normal", "color": "#000000", "offset": 37},
   "resolve": {"legend": {"color": "independent", "strokeDash": "independent"}},
   "vconcat": [{
    "title": {"text": "Precision recall curve", "anchor": "middle", "font": "Liberation Sans", "fontSize": 15, "fontWeight": "bold", "color": "#222222", "offset": -3},
    "width": 478, "height": 332,
    "data": {"name": "pr"},
    "transform": [{"filter": "datum.d === 'ECSSD'"}],
    "mark": {"type": "line", "strokeWidth": 2.8, "clip": true},
    "encoding": {
     "x": {"field": "r", "type": "quantitative", "scale": {"domain": [0, 1]}, "axis": {"title": "Recall", "values": [0,0.1,0.2,0.3,0.4,0.5,0.6,0.7,0.8,0.9,1], "format": ".1~f", "titlePadding": 5}},
     "y": {"field": "p", "type": "quantitative", "scale": {"domain": [0, 1]}, "axis": {"title": "Precision", "values": [0,0.1,0.2,0.3,0.4,0.5,0.6,0.7,0.8,0.9,1], "format": ".1~f", "titlePadding": 10}},
     "color": {"field": "m", "type": "nominal", "title": null, "scale": {"domain": ["ours","Amulet","DHSNet","DSMT","MDF","rfcn","NLDF","DRFI","RC"], "range": ["#000000","#0a0af0","#22dd22","#e01010","#33e8e8","#ee11ee","#f2f20f","#111111","#3a3a8c"]}},
     "strokeDash": {"field": "m", "type": "nominal", "title": null, "scale": {"domain": ["ours","Amulet","DHSNet","DSMT","MDF","rfcn","NLDF","DRFI","RC"], "range": [[1,0],[1,0],[1,0],[1,0],[1,0],[1,0],[1,0],[2,1.5],[2,1.5]]}}
    }
   }]
  },
  {"title": {"text": "HKU-IS", "orient": "bottom", "anchor": "middle", "dx": 38, "font": "Liberation Serif", "fontSize": 25, "fontWeight": "normal", "color": "#000000", "offset": 37},
   "resolve": {"legend": {"color": "independent", "strokeDash": "independent"}},
   "vconcat": [{
    "title": {"text": "Precision recall curve", "anchor": "middle", "font": "Liberation Sans", "fontSize": 15, "fontWeight": "bold", "color": "#222222", "offset": -3},
    "width": 478, "height": 332,
    "data": {"name": "pr"},
    "transform": [{"filter": "datum.d === 'HKU-IS'"}],
    "mark": {"type": "line", "strokeWidth": 2.8, "clip": true},
    "encoding": {
     "x": {"field": "r", "type": "quantitative", "scale": {"domain": [0, 1]}, "axis": {"title": "Recall", "values": [0,0.1,0.2,0.3,0.4,0.5,0.6,0.7,0.8,0.9,1], "format": ".1~f", "titlePadding": 5}},
     "y": {"field": "p", "type": "quantitative", "scale": {"domain": [0, 1]}, "axis": {"title": "Precision", "values": [0,0.1,0.2,0.3,0.4,0.5,0.6,0.7,0.8,0.9,1], "format": ".1~f", "titlePadding": 10}},
     "color": {"field": "m", "type": "nominal", "title": null, "scale": {"domain": ["ours","Amulet","DHSNet","DSMT","MDF","rfcn","NLDF","DRFI","RC"], "range": ["#000000","#0a0af0","#22dd22","#e01010","#33e8e8","#ee11ee","#f2f20f","#111111","#3a3a8c"]}},
     "strokeDash": {"field": "m", "type": "nominal", "title": null, "scale": {"domain": ["ours","Amulet","DHSNet","DSMT","MDF","rfcn","NLDF","DRFI","RC"], "range": [[1,0],[1,0],[1,0],[1,0],[1,0],[1,0],[1,0],[2,1.5],[2,1.5]]}}
    }
   }]
  }
 ], "spacing": 76, "resolve": {"legend": {"color": "independent", "strokeDash": "independent"}}},
 {"hconcat": [
  {"title": {"text": "PASCAL-S", "orient": "bottom", "anchor": "middle", "dx": 23, "font": "Liberation Serif", "fontSize": 25, "fontWeight": "normal", "color": "#000000", "offset": 30},
   "resolve": {"legend": {"color": "independent", "strokeDash": "independent"}},
   "vconcat": [{
    "title": {"text": "Precision recall curve", "anchor": "middle", "font": "Liberation Sans", "fontSize": 15, "fontWeight": "bold", "color": "#222222", "offset": -3},
    "width": 478, "height": 331,
    "data": {"name": "pr"},
    "transform": [{"filter": "datum.d === 'PASCAL-S'"}],
    "mark": {"type": "line", "strokeWidth": 2.8, "clip": true},
    "encoding": {
     "x": {"field": "r", "type": "quantitative", "scale": {"domain": [0, 1]}, "axis": {"title": "Recall", "values": [0,0.1,0.2,0.3,0.4,0.5,0.6,0.7,0.8,0.9,1], "format": ".1~f", "titlePadding": 5}},
     "y": {"field": "p", "type": "quantitative", "scale": {"domain": [0, 1]}, "axis": {"title": "Precision", "values": [0,0.1,0.2,0.3,0.4,0.5,0.6,0.7,0.8,0.9,1], "format": ".1~f", "titlePadding": 10}},
     "color": {"field": "m", "type": "nominal", "title": null, "scale": {"domain": ["ours","Amulet","DHSNet","DSMT","MDF","rfcn","NLDF","DRFI","RC"], "range": ["#000000","#0a0af0","#22dd22","#e01010","#33e8e8","#ee11ee","#f2f20f","#111111","#3a3a8c"]}},
     "strokeDash": {"field": "m", "type": "nominal", "title": null, "scale": {"domain": ["ours","Amulet","DHSNet","DSMT","MDF","rfcn","NLDF","DRFI","RC"], "range": [[1,0],[1,0],[1,0],[1,0],[1,0],[1,0],[1,0],[2,1.5],[2,1.5]]}}
    }
   }]
  },
  {"title": {"text": "SOD", "orient": "bottom", "anchor": "middle", "dx": 38, "font": "Liberation Serif", "fontSize": 25, "fontWeight": "normal", "color": "#000000", "offset": 30},
   "resolve": {"legend": {"color": "independent", "strokeDash": "independent"}},
   "vconcat": [{
    "title": {"text": "Precision recall curve", "anchor": "middle", "font": "Liberation Sans", "fontSize": 15, "fontWeight": "bold", "color": "#222222", "offset": -3},
    "width": 478, "height": 331,
    "data": {"name": "pr"},
    "transform": [{"filter": "datum.d === 'SOD'"}],
    "mark": {"type": "line", "strokeWidth": 2.8, "clip": true},
    "encoding": {
     "x": {"field": "r", "type": "quantitative", "scale": {"domain": [0, 1]}, "axis": {"title": "Recall", "values": [0,0.1,0.2,0.3,0.4,0.5,0.6,0.7,0.8,0.9,1], "format": ".1~f", "titlePadding": 5}},
     "y": {"field": "p", "type": "quantitative", "scale": {"domain": [0, 1]}, "axis": {"title": "Precision", "values": [0,0.1,0.2,0.3,0.4,0.5,0.6,0.7,0.8,0.9,1], "format": ".1~f", "titlePadding": 10}},
     "color": {"field": "m", "type": "nominal", "title": null, "scale": {"domain": ["ours","Amulet","DHSNet","DSMT","MDF","rfcn","NLDF","DRFI","RC"], "range": ["#000000","#0a0af0","#22dd22","#e01010","#33e8e8","#ee11ee","#f2f20f","#111111","#3a3a8c"]}},
     "strokeDash": {"field": "m", "type": "nominal", "title": null, "scale": {"domain": ["ours","Amulet","DHSNet","DSMT","MDF","rfcn","NLDF","DRFI","RC"], "range": [[1,0],[1,0],[1,0],[1,0],[1,0],[1,0],[1,0],[2,1.5],[2,1.5]]}}
    }
   }]
  }
 ], "spacing": 76, "resolve": {"legend": {"color": "independent", "strokeDash": "independent"}}}
]
}
